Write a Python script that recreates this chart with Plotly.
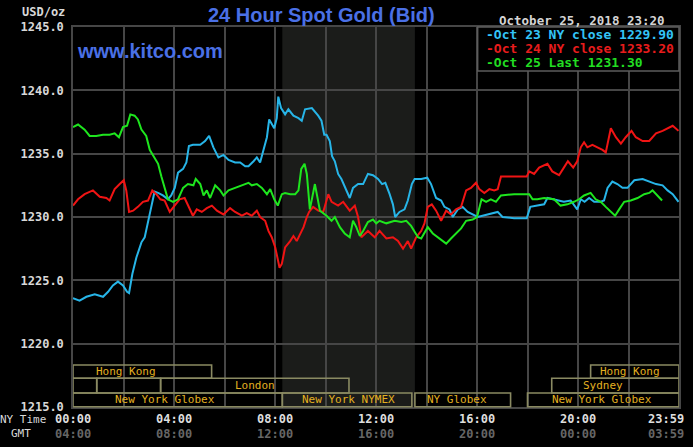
import plotly.graph_objects as go

# ---------------- data (NY time in hours, price USD/oz) ----------------
oct23_t = [0, 0.26, 0.53, 0.86, 1.19, 1.39, 1.58, 1.78, 1.98, 2.14, 2.22, 2.35, 2.51, 2.71, 2.84, 2.97,
           3.10, 3.23, 3.37, 3.56, 3.76, 3.89, 4.03, 4.16, 4.36, 4.49, 4.59, 4.75,
           5.04, 5.23, 5.39, 5.56, 5.76, 5.96, 6.16, 6.42, 6.62, 6.82, 6.95, 7.15, 7.28, 7.41, 7.54,
           7.68, 7.77, 7.87, 7.97, 8.07, 8.13, 8.24, 8.40, 8.53, 8.73, 8.93, 9.06, 9.19, 9.46,
           9.71, 9.84, 9.95, 10.04, 10.17, 10.26, 10.37, 10.50, 10.63, 10.79, 10.96, 11.09, 11.29,
           11.49, 11.68, 11.88, 12.08, 12.24, 12.37, 12.54, 12.67, 12.76, 12.93, 13.13, 13.26, 13.42,
           13.53, 13.79, 14.03, 14.18, 14.38, 14.58, 14.71, 14.91, 15.04, 15.24, 15.43, 15.63, 15.83,
           16.03, 16.22, 16.42, 16.82, 17.01, 17.47, 17.97, 18.11, 18.39, 18.66, 18.79,
           19.05, 19.25, 19.44, 19.71, 19.97, 20.11, 20.26, 20.44, 20.64, 20.90, 21.03, 21.17, 21.36,
           21.56, 21.76, 21.96, 22.23, 22.56, 22.82, 23.09, 23.35, 23.55, 23.75, 23.98]
oct23_p = [1223.6, 1223.4, 1223.7, 1223.9, 1223.7, 1224.1, 1224.6, 1224.9, 1224.6, 1224.1, 1224.0, 1225.5,
           1226.8, 1228.0, 1228.4, 1229.5, 1230.8, 1232.0, 1231.9, 1231.7, 1231.4, 1231.7, 1232.3, 1233.5,
           1233.8, 1234.3, 1235.6, 1235.7,
           1235.7, 1236.0, 1236.4, 1235.5, 1234.7, 1234.9, 1234.5, 1234.3, 1234.3, 1234.0, 1234.0, 1234.4,
           1234.7, 1234.3, 1235.2, 1236.3, 1237.7, 1237.4, 1237.0, 1237.8, 1239.5, 1238.6, 1238.1, 1238.5,
           1238.0, 1237.8, 1237.6, 1238.5, 1238.6,
           1238.0, 1237.6, 1236.5, 1236.5, 1236.0, 1234.8, 1234.4, 1233.4, 1233.0, 1232.3, 1231.5, 1232.3,
           1232.6, 1232.6, 1233.4, 1233.3, 1233.0, 1232.6, 1232.7, 1231.8, 1231.0, 1230.0, 1230.4, 1230.6,
           1231.3, 1232.6, 1233.0, 1233.0, 1233.1, 1232.6, 1231.5, 1231.3, 1230.8, 1230.6, 1230.0, 1230.6,
           1230.8, 1230.4, 1230.2, 1230.0, 1230.1, 1230.2, 1230.4, 1230.0, 1229.9, 1229.9, 1230.8, 1230.9,
           1231.0, 1231.5,
           1231.4, 1231.3, 1231.2, 1231.3, 1230.6, 1231.4, 1231.2, 1231.5, 1231.2, 1231.2, 1231.3, 1232.3,
           1232.8, 1232.6, 1232.3, 1232.3, 1232.9, 1233.0, 1232.8, 1232.6, 1232.5, 1232.1, 1231.8, 1231.2]

oct24_t = [0, 0.20, 0.46, 0.79, 1.06, 1.32, 1.45, 1.65, 1.85, 2.01, 2.11, 2.22, 2.38, 2.57, 2.77, 2.97,
           3.14, 3.30, 3.46, 3.63, 3.83, 4.03, 4.22, 4.42, 4.59, 4.75,
           4.90, 5.10, 5.30, 5.50, 5.70, 5.96, 6.22, 6.42, 6.69, 6.88, 7.08, 7.28, 7.41, 7.61, 7.74,
           7.87, 8.01, 8.10, 8.18, 8.27, 8.40, 8.60, 8.73, 8.86, 9.00, 9.13, 9.26, 9.35,
           9.51, 9.71, 9.91, 10.11, 10.24, 10.50, 10.70, 10.96, 11.16, 11.29, 11.42, 11.68, 11.95,
           12.14, 12.41, 12.67, 12.87, 13.07, 13.26, 13.39, 13.59, 13.79, 13.92, 14.05, 14.21,
           14.38, 14.58, 14.78, 14.97, 15.17, 15.37, 15.57, 15.76, 15.96, 16.09, 16.29, 16.49, 16.68,
           16.82, 16.95, 17.47, 17.97, 18.07, 18.26, 18.46, 18.79,
           18.98, 19.25, 19.44, 19.60, 19.81, 19.97, 20.11, 20.24, 20.37, 20.57, 20.77, 20.97, 21.10,
           21.19, 21.30, 21.50, 21.70, 21.89, 22.12, 22.29, 22.56, 22.82, 23.09, 23.35, 23.55, 23.75, 23.98]
oct24_p = [1230.9, 1231.4, 1231.8, 1232.1, 1231.6, 1231.5, 1231.3, 1232.2, 1232.6, 1232.9, 1232.1, 1230.4,
           1230.5, 1230.8, 1231.2, 1231.3, 1232.1, 1231.8, 1231.4, 1231.3, 1230.4, 1230.9, 1231.4, 1231.5,
           1230.8, 1230.1,
           1230.6, 1230.4, 1230.7, 1230.9, 1230.5, 1230.2, 1230.7, 1230.4, 1230.1, 1230.3, 1230.1, 1230.5,
           1230.0, 1229.7, 1228.9, 1228.4, 1227.6, 1226.6, 1226.0, 1226.3, 1227.6, 1228.1, 1228.5, 1228.1,
           1228.7, 1229.2, 1230.0, 1230.4,
           1230.8, 1230.5, 1230.4, 1231.8, 1231.2, 1230.9, 1231.2, 1230.5, 1230.9, 1230.0, 1228.4, 1228.9,
           1228.4, 1228.9, 1228.3, 1228.4, 1228.1, 1227.5, 1228.1, 1227.5, 1228.4, 1228.9, 1229.5, 1230.8,
           1231.0,
           1230.5, 1229.7, 1230.5, 1230.2, 1230.6, 1230.8, 1232.1, 1232.3, 1232.7, 1232.2, 1231.9, 1232.2,
           1232.1, 1232.2, 1233.2, 1233.2, 1233.2, 1233.6, 1233.4, 1233.9, 1234.2,
           1233.6, 1233.3, 1233.9, 1234.4, 1233.9, 1234.4, 1235.5, 1235.9, 1235.5, 1235.7, 1235.5, 1235.3,
           1235.1, 1236.1, 1237.0, 1236.3, 1235.8, 1236.3, 1236.8, 1236.3, 1236.0, 1236.0, 1236.6, 1236.8,
           1237.0, 1237.2, 1236.8]

oct25_t = [0, 0.20, 0.46, 0.66, 0.92, 1.19, 1.45, 1.65, 1.82, 1.98, 2.14, 2.27, 2.44, 2.57, 2.71, 2.90,
           3.04, 3.23, 3.37, 3.50, 3.63, 3.76, 3.96, 4.16, 4.36, 4.55,
           4.77, 4.86, 5.04, 5.17, 5.30, 5.43, 5.63, 5.83, 5.96, 6.16, 6.42, 6.69, 6.95, 7.08, 7.28,
           7.48, 7.68, 7.81, 7.97, 8.11, 8.27, 8.40, 8.60, 8.80, 8.93, 9.04, 9.17, 9.26, 9.38,
           9.58, 9.78, 10.04, 10.24, 10.37, 10.57, 10.76, 10.96, 11.09, 11.22, 11.36, 11.49, 11.68,
           11.88, 12.01, 12.14, 12.41, 12.74, 13.00, 13.20, 13.39, 13.53, 13.66, 13.79, 13.92, 14.05,
           14.25, 14.45, 14.64, 14.78, 14.97, 15.17, 15.37, 15.57, 15.83, 16.00, 16.09, 16.18, 16.36,
           16.55, 16.75, 16.95, 17.47, 18.07, 18.20, 18.39, 18.66,
           19.05, 19.31, 19.58, 19.84, 20.04, 20.24, 20.50, 20.70, 20.90, 21.10, 21.30, 21.47, 21.63,
           21.83, 22.09, 22.36, 22.62, 22.82, 22.95, 23.09, 23.33]
oct25_p = [1237.1, 1237.3, 1236.9, 1236.4, 1236.4, 1236.5, 1236.5, 1236.6, 1236.3, 1237.1, 1237.2, 1238.1,
           1238.0, 1237.7, 1236.9, 1236.4, 1235.3, 1234.6, 1234.2, 1233.2, 1232.3, 1231.4, 1231.2, 1231.4,
           1232.3, 1232.6,
           1232.5, 1233.0, 1232.6, 1231.7, 1232.1, 1231.5, 1232.5, 1232.1, 1231.7, 1232.1, 1232.3, 1232.5,
           1232.7, 1232.5, 1232.6, 1232.3, 1231.8, 1232.2, 1231.4, 1230.9, 1231.8, 1231.9, 1231.8, 1231.8,
           1232.1, 1233.8, 1234.2, 1233.4, 1230.6,
           1232.6, 1230.5, 1230.1, 1229.7, 1230.0, 1229.2, 1228.7, 1228.4, 1229.7, 1229.2, 1228.5, 1228.9,
           1229.6, 1229.8, 1229.5, 1229.7, 1229.5, 1229.7, 1229.6, 1229.7, 1229.3, 1228.8, 1228.4, 1228.3,
           1228.8, 1229.2,
           1228.7, 1228.4, 1228.1, 1227.9, 1228.3, 1228.7, 1229.1, 1229.7, 1229.8, 1230.0, 1230.8, 1231.4,
           1231.2, 1231.4, 1231.2, 1231.7, 1231.8, 1231.8, 1231.4, 1231.4, 1231.5,
           1231.4, 1230.9, 1231.0, 1231.2, 1231.4, 1231.7, 1231.9, 1231.4, 1231.2, 1230.8, 1230.4, 1230.1,
           1230.6, 1231.2, 1231.3, 1231.5, 1231.8, 1231.9, 1232.1, 1231.8, 1231.3]

series_names = ["Oct 23 NY close 1229.90", "Oct 24 NY close 1233.20", "Oct 25 Last 1231.30"]
y_ticks = [1215, 1220, 1225, 1230, 1235, 1240, 1245]
x_ticks_ny = ["00:00", "04:00", "08:00", "12:00", "16:00", "20:00", "23:59"]
x_ticks_gmt = ["04:00", "08:00", "12:00", "16:00", "20:00", "00:00", "03:59"]
x_tick_hours = [0, 4, 8, 12, 16, 20, 24]

# trading sessions: (row, start hour, end hour)
sessions = [(1, 0, 5.49), (1, 20.5, 24),
            (2, 0, 0.94), (2, 0.94, 3.47), (2, 3.47, 10.93), (2, 18.96, 24),
            (3, 0, 8.29), (3, 8.29, 13.42), (3, 13.54, 17.33), (3, 18.0, 24)]
session_labels = ["Hong Kong", "Hong Kong", "London", "Sydney",
                  "New York Globex", "New York NYMEX", "NY Globex", "New York Globex"]
session_label_rows = [1, 1, 2, 2, 3, 3, 3, 3]
session_label_hours = [2.11, 22.07, 7.19, 20.98, 3.65, 10.9, 15.2, 20.96]
nymex_shade = (8.29, 13.54)

# ---------------- layout helpers ----------------
W, H = 693, 447
L, R, T, B = 73, 681, 27, 407


def px(x):
    return (x - L) / (R - L)


def py(y):
    return (B - y) / (B - T)


row_bounds = {1: (365, 378.3), 2: (378.3, 393), 3: (393, 406.7)}

colors = ["#27b5e8", "#f01414", "#1ee61e"]
legend_colors = ["#33c4f7", "#e81c1c", "#22dd22"]
mono = "DejaVu Sans Mono"

fig = go.Figure()
for t, p, c, n in zip([oct23_t, oct24_t, oct25_t], [oct23_p, oct24_p, oct25_p], colors, series_names):
    fig.add_trace(go.Scatter(x=t, y=p, mode="lines", name=n,
                             line=dict(color=c, width=2), showlegend=False, hoverinfo="skip"))

shapes = []
# NYMEX shading
shapes.append(dict(type="rect", xref="x", yref="paper", x0=nymex_shade[0], x1=nymex_shade[1],
                   y0=0, y1=1, fillcolor="#1b1c1a", line=dict(width=0), layer="below"))
# session boxes
for row, s, e in sessions:
    y_top, y_bot = row_bounds[row]
    shapes.append(dict(type="rect", xref="x", yref="paper", x0=s, x1=e,
                       y0=py(y_bot), y1=py(y_top), fillcolor="rgba(0,0,0,0)",
                       line=dict(color="#8a8a62", width=1.6), layer="above"))
# legend box
shapes.append(dict(type="rect", xref="paper", yref="paper", x0=px(479), x1=1, y0=py(71), y1=1,
                   fillcolor="#000000", line=dict(color="#5c5c5c", width=1.5), layer="above"))

ann = []
for lab, row, h in zip(session_labels, session_label_rows, session_label_hours):
    y_top, y_bot = row_bounds[row]
    ann.append(dict(text=lab, x=h, xref="x", y=py((y_top + y_bot) / 2), yref="paper",
                    showarrow=False, xanchor="center", yanchor="middle",
                    font=dict(family=mono, size=11, color="#e3b020")))

# x labels
for i, (h, ny, gmt) in enumerate(zip(x_tick_hours, x_ticks_ny, x_ticks_gmt)):
    last = i == len(x_tick_hours) - 1
    xx = px(688) if last else h / 24
    xr = "paper"
    anchor = "right" if last else "center"
    ann.append(dict(text="<b>" + ny + "</b>", x=xx, xref=xr, y=py(419), yref="paper", showarrow=False,
                    xanchor=anchor, yanchor="middle", font=dict(family=mono, size=12, color="#dedede")))
    ann.append(dict(text="<b>" + gmt + "</b>", x=xx, xref=xr, y=py(434), yref="paper", showarrow=False,
                    xanchor=anchor, yanchor="middle", font=dict(family=mono, size=12, color="#666666")))
ann.append(dict(text="NY Time", x=px(48), xref="paper", y=py(419), yref="paper", showarrow=False,
                xanchor="right", yanchor="middle", font=dict(family=mono, size=11, color="#d8d8d8")))
ann.append(dict(text="GMT", x=px(33), xref="paper", y=py(434), yref="paper", showarrow=False,
                xanchor="right", yanchor="middle", font=dict(family=mono, size=11, color="#d8d8d8")))
ann.append(dict(text="<b>USD/oz</b>", x=px(67), xref="paper", y=py(12), yref="paper", showarrow=False,
                xanchor="right", yanchor="middle", font=dict(family=mono, size=12, color="#d8d8d8")))
# title and site
ann.append(dict(text="<b>24 Hour Spot Gold (Bid)</b>", x=px(322), xref="paper", y=py(15), yref="paper",
                showarrow=False, xanchor="center", yanchor="middle",
                font=dict(family="Liberation Sans", size=20, color="#4a70e6")))
ann.append(dict(text="<b>www.kitco.com</b>", x=px(75), xref="paper", y=py(51), yref="paper",
                showarrow=False, xanchor="left", yanchor="middle",
                font=dict(family="Liberation Sans", size=20, color="#4a70e6")))
# date + legend
ann.append(dict(text="<b>October 25, 2018 23:20</b>", x=px(669), xref="paper", y=py(20), yref="paper",
                showarrow=False, xanchor="right", yanchor="middle",
                font=dict(family=mono, size=12.5, color="#d4d4d4")))
for i, (n, c) in enumerate(zip(series_names, legend_colors)):
    ann.append(dict(text="<b>-" + n + "</b>", x=px(485), xref="paper", y=py(35 + 14 * i), yref="paper",
                    showarrow=False, xanchor="left", yanchor="middle",
                    font=dict(family=mono, size=13, color=c)))

fig.update_layout(
    width=W, height=H,
    margin=dict(l=L, r=W - R, t=T, b=H - B, pad=0),
    paper_bgcolor="#000000", plot_bgcolor="#000000",
    shapes=shapes, annotations=ann, showlegend=False,
    xaxis=dict(range=[0, 24], tickvals=list(range(0, 25, 2)), showticklabels=False,
               showgrid=True, gridcolor="#464646", gridwidth=1.5, zeroline=False,
               showline=True, linecolor="#464646", linewidth=1.5, mirror=True, ticks=""),
    yaxis=dict(range=[1215, 1245], tickvals=y_ticks, ticktext=["<b>%.1f</b>" % v for v in y_ticks],
               showgrid=True, gridcolor="#464646", gridwidth=1.5, zeroline=False,
               showline=True, linecolor="#464646", linewidth=1.5, mirror=True, ticks="",
               ticklabelstandoff=5,
               tickfont=dict(family=mono, size=12, color="#d8d8d8")),
)

fig.write_html("out.html")
